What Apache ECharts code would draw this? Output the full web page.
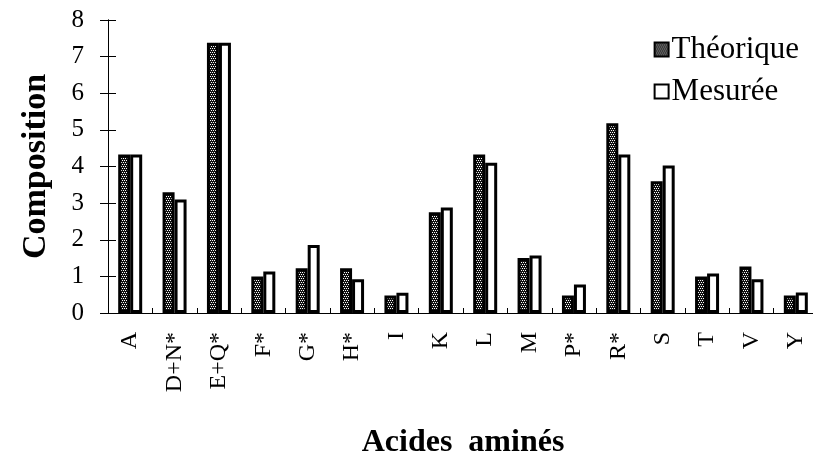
<!DOCTYPE html>
<html>
<head>
<meta charset="utf-8">
<script src="https://cdn.jsdelivr.net/npm/echarts@6/dist/echarts.min.js"></script>
<style>
  html, body { margin: 0; padding: 0; background: #fff; }
  #chart { width: 813px; height: 457px; }
</style>
</head>
<body>
<div id="chart"></div>
<script>
// Amino-acid composition: theoretical vs measured
const categories = ['A', 'D+N*', 'E+Q*', 'F*', 'G*', 'H*', 'I', 'K', 'L', 'M', 'P*', 'R*', 'S', 'T', 'V', 'Y'];
const theorique = [4.33, 3.30, 7.38, 1.00, 1.22, 1.22, 0.48, 2.75, 4.33, 1.50, 0.48, 5.18, 3.60, 1.00, 1.27, 0.48];
const mesuree   = [4.33, 3.10, 7.38, 1.13, 1.86, 0.92, 0.55, 2.88, 4.10, 1.57, 0.78, 4.33, 4.03, 1.08, 0.92, 0.56];
const yTicks = [0, 1, 2, 3, 4, 5, 6, 7, 8];

const serif = '"Liberation Serif", "Times New Roman", Times, serif';

// Dotted fill used for the theoretical bars
function dotPattern() {
  const c = document.createElement('canvas');
  c.width = 4; c.height = 4;
  const g = c.getContext('2d');
  g.fillStyle = '#111';
  g.fillRect(0, 0, 4, 4);
  g.fillStyle = '#fff';
  [[0, 0], [2, 0], [1, 2], [3, 2]].forEach(p => g.fillRect(p[0], p[1], 1, 1));
  return c;
}

const chart = echarts.init(document.getElementById('chart'), null, { renderer: 'canvas' });

const yMin = yTicks[0], yMax = yTicks[yTicks.length - 1];
const axisBlack = { color: '#000', width: 1 };
const gridLeft = 108, gridRight = -5;
const plotWidth = 813 - gridLeft - gridRight;

chart.setOption({
  animation: false,
  backgroundColor: '#fff',
  grid: { left: gridLeft, right: gridRight, top: 20, bottom: 144, containLabel: false, outerBoundsMode: 'none' },
  legend: {
    orient: 'vertical', right: 9, top: 29, itemWidth: 14, itemHeight: 14, itemGap: 11, icon: 'rect',
    textStyle: { fontFamily: serif, fontSize: 31, color: '#000', padding: [0, 0, 0, -2] },
    data: ['Théorique', 'Mesurée']
  },
  xAxis: [
    {
      type: 'category', data: categories,
      name: 'Acides  aminés', nameLocation: 'middle', nameGap: 114,
      nameTextStyle: { fontFamily: serif, fontSize: 32, fontWeight: 'bold', color: '#000' },
      axisLine: { lineStyle: axisBlack },
      axisTick: { length: 5, lineStyle: { color: '#000' } },
      axisLabel: { rotate: 90, margin: 19, fontFamily: serif, fontSize: 24, color: '#000', interval: 0 },
      splitLine: { show: false }
    },
    {
      // second category axis, pulled onto the zero line: its ticks point up into the plot
      type: 'category', data: categories, position: 'top',
      axisLine: { show: true, onZero: true, lineStyle: axisBlack },
      axisTick: { show: true, inside: false, length: 5, lineStyle: { color: '#000' } },
      axisLabel: { show: false },
      splitLine: { show: false }
    }
  ],
  yAxis: [
    {
      type: 'value', min: yMin, max: yMax, interval: 1,
      name: 'Composition', nameLocation: 'middle', nameRotate: 90, nameGap: 55,
      nameTextStyle: { fontFamily: serif, fontSize: 34, fontWeight: 'bold', color: '#000' },
      axisLine: { show: true, lineStyle: axisBlack },
      axisTick: { show: true, length: 8, lineStyle: { color: '#000' } },
      axisLabel: { margin: 24, fontFamily: serif, fontSize: 25, color: '#000' },
      splitLine: { show: false }
    },
    {
      // second value axis shifted onto the left edge: its ticks point right into the plot
      type: 'value', min: yMin, max: yMax, interval: 1, position: 'right', offset: -plotWidth,
      axisLine: { show: true, lineStyle: axisBlack },
      axisTick: { show: true, inside: false, length: 8, lineStyle: { color: '#000' } },
      axisLabel: { show: false },
      splitLine: { show: false }
    }
  ],
  series: [
    {
      name: 'Théorique', type: 'bar', data: theorique, barWidth: 12, barGap: '0%',
      itemStyle: { color: { image: dotPattern(), repeat: 'repeat' }, borderColor: '#000', borderWidth: 3 }
    },
    {
      name: 'Mesurée', type: 'bar', data: mesuree, barWidth: 12, barGap: '0%',
      itemStyle: { color: '#fff', borderColor: '#000', borderWidth: 3 }
    },
    {
      // empty series that binds the second pair of axes
      name: 'ticks', type: 'line', xAxisIndex: 1, yAxisIndex: 1, data: [], silent: true, showSymbol: false
    }
  ]
});
</script>
</body>
</html>
